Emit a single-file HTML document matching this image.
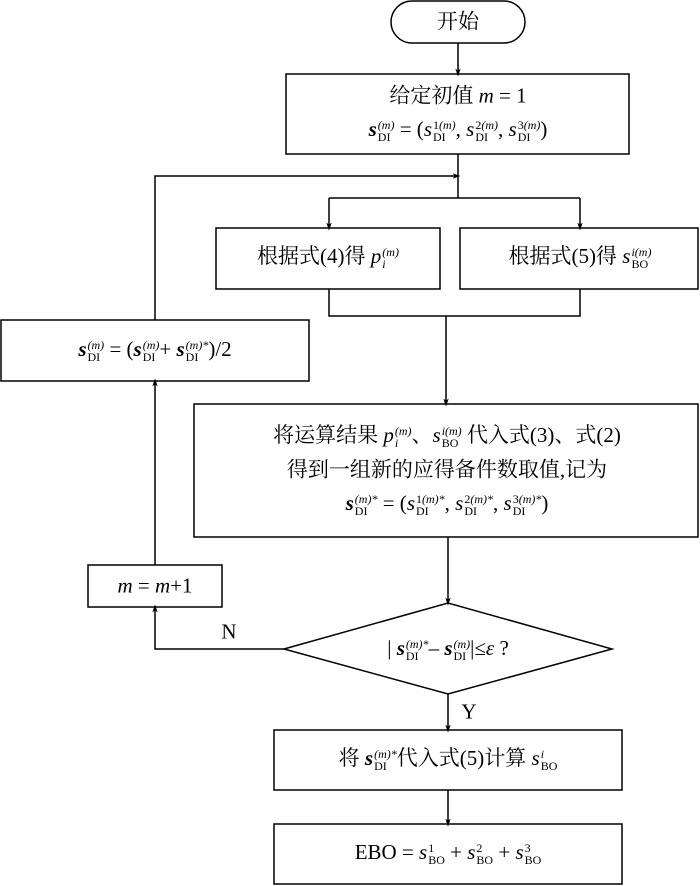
<!DOCTYPE html>
<html><head><meta charset="utf-8"><style>
body{margin:0;width:700px;height:886px;background:#fff;position:relative;overflow:hidden;font-family:"Liberation Serif","Noto Serif CJK SC","Noto Sans CJK SC",serif;color:#000}
.t{position:absolute;white-space:nowrap;font-size:21px;transform:translate(-50%,-50%);line-height:1}
.ss{display:inline-block;vertical-align:middle;font-size:12px;line-height:12px;text-align:left;margin-left:1px}
.ss span{display:block}
i{font-style:italic}
b{font-style:italic;font-weight:bold}
</style></head><body>
<svg width="700" height="886" style="position:absolute;left:0;top:0">
<defs><marker id="a" markerWidth="8" markerHeight="12" refX="8" refY="4" orient="auto" markerUnits="userSpaceOnUse" viewBox="0 0 12 8"><path d="M0,0 L12,4 L0,8 L3,4 z" fill="#000"/></marker></defs>
<g stroke="#000" stroke-width="1.5" fill="none">
<rect x="391" y="1" width="134" height="42" rx="21"/>
<rect x="286" y="74" width="343" height="80"/>
<rect x="216" y="228" width="224" height="61"/>
<rect x="460" y="228" width="238" height="61"/>
<rect x="1" y="320" width="308" height="61"/>
<rect x="194" y="404" width="504" height="133"/>
<rect x="88" y="565" width="134" height="42"/>
<polygon points="284,649 448,603 612,649 448,694"/>
<rect x="274" y="730" width="348" height="60"/>
<rect x="274" y="824" width="348" height="60"/>
<line x1="458" y1="43" x2="458" y2="74" marker-end="url(#a)"/>
<line x1="458" y1="154" x2="458" y2="198"/>
<polyline points="155,320 155,176 458,176" marker-end="url(#a)"/>
<polyline points="329,198 580,198"/>
<line x1="329" y1="198" x2="329" y2="228" marker-end="url(#a)"/>
<line x1="580" y1="198" x2="580" y2="228" marker-end="url(#a)"/>
<polyline points="329,289 329,316 580,316 580,289"/>
<line x1="446" y1="316" x2="446" y2="404" marker-end="url(#a)"/>
<line x1="448" y1="537" x2="448" y2="603" marker-end="url(#a)"/>
<polyline points="284,649 155,649 155,607" marker-end="url(#a)"/>
<line x1="155" y1="565" x2="155" y2="381" marker-end="url(#a)"/>
<line x1="448" y1="694" x2="448" y2="730" marker-end="url(#a)"/>
<line x1="448" y1="790" x2="448" y2="824" marker-end="url(#a)"/>
</g></svg>
<div class="t" style="left:458px;top:22px">开始</div>
<div class="t" style="left:458px;top:96px">给定初值 <i>m</i> = 1</div>
<div class="t" style="left:458px;top:131px"><b>s</b><span class="ss"><span><i>(m)</i></span><span>DI</span></span> = (<i>s</i><span class="ss"><span>1<i>(m)</i></span><span>DI</span></span>, <i>s</i><span class="ss"><span>2<i>(m)</i></span><span>DI</span></span>, <i>s</i><span class="ss"><span>3<i>(m)</i></span><span>DI</span></span>)</div>
<div class="t" style="left:328px;top:258px">根据式(4)得 <i>p</i><span class="ss"><span><i>(m)</i></span><span><i>i</i></span></span></div>
<div class="t" style="left:580px;top:258px">根据式(5)得 <i>s</i><span class="ss"><span><i>i(m)</i></span><span>BO</span></span></div>
<div class="t" style="left:155px;top:351px"><b>s</b><span class="ss"><span><i>(m)</i></span><span>DI</span></span> = (<b>s</b><span class="ss"><span><i>(m)</i></span><span>DI</span></span>+ <b>s</b><span class="ss"><span><i>(m)*</i></span><span>DI</span></span>)/2</div>
<div class="t" style="left:447px;top:437px">将运算结果 <i>p</i><span class="ss"><span><i>(m)</i></span><span><i>i</i></span></span>、<i>s</i><span class="ss"><span><i>i(m)</i></span><span>BO</span></span> 代入式(3)、式(2)</div>
<div class="t" style="left:447px;top:470px">得到一组新的应得备件数取值,记为</div>
<div class="t" style="left:447px;top:505px"><b>s</b><span class="ss"><span><i>(m)*</i></span><span>DI</span></span> = (<i>s</i><span class="ss"><span>1<i>(m)*</i></span><span>DI</span></span>, <i>s</i><span class="ss"><span>2<i>(m)*</i></span><span>DI</span></span>, <i>s</i><span class="ss"><span>3<i>(m)*</i></span><span>DI</span></span>)</div>
<div class="t" style="left:155px;top:586px"><i>m</i> = <i>m</i>+1</div>
<div class="t" style="left:229px;top:632px">N</div>
<div class="t" style="left:469px;top:712px">Y</div>
<div class="t" style="left:448px;top:650px">| <b>s</b><span class="ss"><span><i>(m)*</i></span><span>DI</span></span>– <b>s</b><span class="ss"><span><i>(m)</i></span><span>DI</span></span>|≤<i>ε</i> ?</div>
<div class="t" style="left:448px;top:760px">将 <b>s</b><span class="ss"><span><i>(m)*</i></span><span>DI</span></span>代入式(5)计算 <i>s</i><span class="ss"><span><i>i</i></span><span>BO</span></span></div>
<div class="t" style="left:448px;top:854px">EBO = <i>s</i><span class="ss"><span>1</span><span>BO</span></span> + <i>s</i><span class="ss"><span>2</span><span>BO</span></span> + <i>s</i><span class="ss"><span>3</span><span>BO</span></span></div>
</body></html>
